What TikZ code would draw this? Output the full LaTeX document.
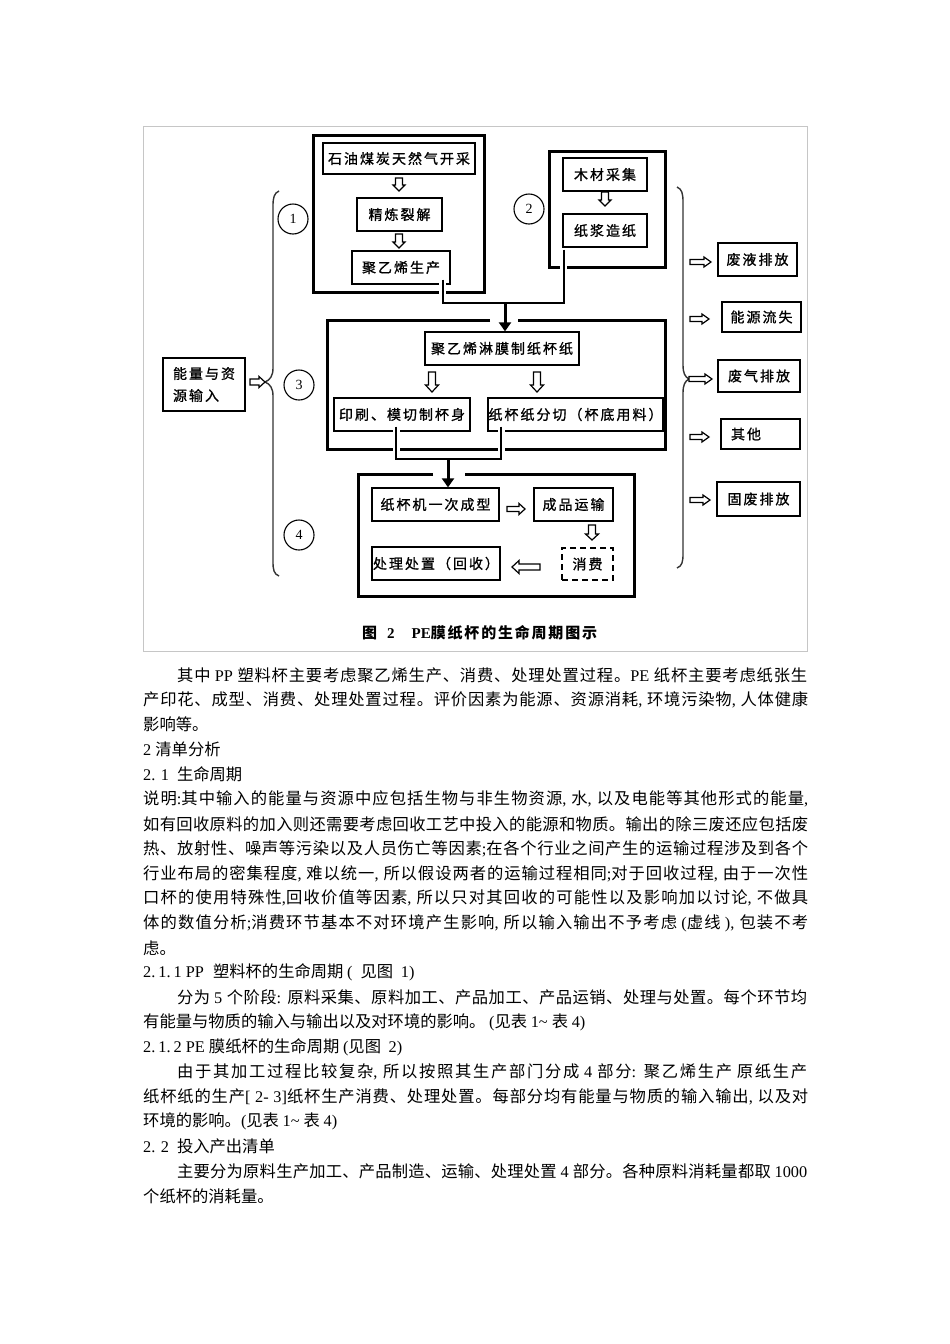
\documentclass[tikz,border=0pt]{standalone}
\usepackage{fontspec}
\setmainfont{Noto Sans CJK SC}
\newfontfamily\cjkreg{Noto Sans CJK SC}
\newfontfamily\cjkdiag{Noto Sans CJK SC}[FakeBold=1]
\newfontfamily\latinfont{Liberation Serif}
\newcommand\cjkcur{\cjkreg}
\usetikzlibrary{arrows.meta}
\XeTeXinterchartokenstate=1
\newXeTeXintercharclass\cjkclass
\newcount\cjkcnt
\newcommand\setcjkrange[2]{\cjkcnt=#1\relax
  \loop\XeTeXcharclass\cjkcnt=\cjkclass\relax
  \ifnum\cjkcnt<#2\relax\advance\cjkcnt by 1\relax\repeat}
\setcjkrange{"3000}{"303F}
\setcjkrange{"4E00}{"9FFF}
\setcjkrange{"FF00}{"FFEF}
\newcommand\cjkgap{\hskip 0pt plus 3pt minus 1pt\relax}
\XeTeXinterchartoks 0 \cjkclass = {\cjkcur}
\XeTeXinterchartoks 4095 \cjkclass = {\cjkcur}
\XeTeXinterchartoks \cjkclass 0 = {\latinfont}
\XeTeXinterchartoks 4095 0 = {\latinfont}
\XeTeXinterchartoks \cjkclass \cjkclass = {\cjkgap}
\newcommand\dfont{\fontsize{14}{22}\selectfont\renewcommand\cjkgap{\hskip2pt\relax}\renewcommand\cjkcur{\cjkdiag}}
\newcommand\capfont{\fontsize{15}{18}\selectfont\bfseries\renewcommand\cjkgap{\hskip1.8pt\relax}}
\newcommand\numfont{\fontsize{14}{14}\selectfont}
\newcommand\bodyfont{\fontsize{16.3}{19}\selectfont}
\newcommand\jl[2]{\hbox to #1{#2}}
% hollow block arrow: x, y, rotation, length, shaft half width, head half width, head length
\newcommand\harrow[7]{\draw[hollow, shift={(#1,#2)}, rotate=#3]
  (-#4/2,-#5) -- (#4/2-#7,-#5) -- (#4/2-#7,-#6) -- (#4/2,0) -- (#4/2-#7,#6)
  -- (#4/2-#7,#5) -- (-#4/2,#5) -- cycle;}
\begin{document}
\begin{tikzpicture}[x=1pt,y=-1pt,
  box/.style={draw, line width=1.3pt, inner sep=0pt, font=\dfont},
  outbox/.style={draw, line width=1.4pt, inner sep=0pt, font=\dfont},
  circ/.style={circle, draw, line width=1.1pt, minimum size=30pt, inner sep=0pt, font=\numfont},
  grp/.style={line width=3pt},
  conn/.style={line width=1.8pt, preaction={draw=white, line width=7pt}},
  bigarr/.style={line width=3pt, -{Triangle[length=9pt,width=12pt]}},
  brace/.style={line width=1.4pt, black!80},
  hollow/.style={draw, line width=1.2pt, fill=white},
  plain/.style={anchor=west, inner sep=0pt, font=\bodyfont}]
\useasboundingbox (0,0) rectangle (950,1344);
\fill[white] (0,0) rectangle (950,1344);
% outer frame
\draw[gray!45, line width=1pt] (143,126) rectangle (807,651);
% group frames
\draw[grp] (313,135) rectangle (484,292);
\draw[grp] (549,151) rectangle (665,267);
\draw[grp] (490,320) -- (327,320) -- (327,449) -- (665,449) -- (665,320) -- (518,320);
\draw[grp] (433,474) -- (358,474) -- (358,596) -- (634,596) -- (634,474) -- (465,474);
% boxes of group 1
\node[box, minimum width=152pt, minimum height=31pt] (b11) at (399,158.5) {石油煤炭天然气开采};
\node[box, minimum width=85pt, minimum height=33pt] (b12) at (399.5,214.5) {精炼裂解};
\node[box, minimum width=98pt, minimum height=33pt] (b13) at (401,267.5) {聚乙烯生产};
% group 2
\node[box, minimum width=84pt, minimum height=33pt] (b21) at (605,174.5) {木材采集};
\node[box, minimum width=84pt, minimum height=33pt] (b22) at (605,230.5) {纸浆造纸};
% group 3
\node[box, minimum width=154pt, minimum height=33pt] (b31) at (502,348.5) {聚乙烯淋膜制纸杯纸};
\node[box, minimum width=136pt, minimum height=33pt] (b32) at (402,414.5) {印刷、模切制杯身};
\node[box, minimum width=175pt, minimum height=33pt] (b33) at (575.5,414.5) {纸杯纸分切（杯底用料）};
% group 4
\node[box, minimum width=127pt, minimum height=33pt] (b41) at (435.5,504.5) {纸杯机一次成型};
\node[box, minimum width=79pt, minimum height=33pt] (b42) at (573.5,504.5) {成品运输};
\node[box, dashed, dash pattern=on 6pt off 4pt, line width=1.6pt, minimum width=51pt, minimum height=32pt] (b43) at (587.5,564) {消费};
\node[box, minimum width=128pt, minimum height=33pt] (b44) at (436,563.5) {处理处置（回收）};
% input box
\node[outbox, text width=62pt, align=left, inner xsep=10pt, minimum height=53pt] (inp) at (204,384.5) {能量与资\\源输入};
% output boxes
\node[outbox, minimum width=79pt, minimum height=33pt] (o1) at (757.5,259.5) {废液排放};
\node[outbox, minimum width=79pt, minimum height=30pt] (o2) at (761.5,317) {能源流失};
\node[outbox, minimum width=82pt, minimum height=32pt] (o3) at (759,376) {废气排放};
\node[outbox, text width=59pt, align=left, inner xsep=10pt, minimum height=30pt] (o4) at (760.5,434) {其他};
\node[outbox, minimum width=83pt, minimum height=34pt] (o5) at (758.5,499) {固废排放};
% circles
\node[circ] (c1) at (293,219) {1};
\node[circ] (c2) at (529,209) {2};
\node[circ] (c3) at (299,385) {3};
\node[circ] (c4) at (299,535) {4};
% braces
\draw[brace] (279,191) .. controls (274,193) and (273,198) .. (273,206) -- (273,368)
  .. controls (273,376) and (270,380) .. (265,382) .. controls (270,384) and (273,388) .. (273,396)
  -- (273,562) .. controls (273,570) and (274,574) .. (279,576);
\draw[brace] (677,187) .. controls (682,189) and (683,194) .. (683,202) -- (683,365)
  .. controls (683,373) and (685,377) .. (689,379) .. controls (685,381) and (683,385) .. (683,393)
  -- (683,554) .. controls (683,562) and (682,566) .. (677,568);
% hollow arrows
\harrow{399}{184.5}{-90}{13}{3.5}{6}{6}
\harrow{399}{241}{-90}{14}{3.5}{6}{6}
\harrow{605}{199}{-90}{14}{3.5}{6}{6}
\harrow{432}{382}{-90}{20}{3.5}{6.5}{7}
\harrow{537}{382}{-90}{20}{3.5}{6.5}{7}
\harrow{516}{509}{0}{18}{2.5}{5.5}{6}
\harrow{592}{532.5}{-90}{15}{3.5}{6.5}{6}
\harrow{526}{567}{180}{28}{3}{6.5}{7}
\harrow{257.5}{382}{0}{15}{3}{5.5}{6}
\harrow{700.5}{262}{0}{21}{2.5}{5}{7}
\harrow{699.5}{319}{0}{19}{2.5}{5}{7}
\harrow{700.5}{379}{0}{23}{2.5}{5}{7}
\harrow{699.5}{437}{0}{19}{2.5}{5}{7}
\harrow{700}{500}{0}{20}{2.5}{5}{7}
% connectors
\coordinate (j1) at (505,303);
\coordinate (j2) at (448,459);
\draw[conn] ([xshift=-8pt,yshift=5pt]b13.south east) |- (j1);
\draw[conn] ([xshift=1.5pt,yshift=-2pt]b22.south west) |- (j1);
\draw[conn] ([xshift=63pt,yshift=5pt]b32.south west) |- (j2);
\draw[conn] ([xshift=14pt,yshift=5pt]b33.south west) |- (j2);
\draw[bigarr] ([yshift=1pt]j1) -- (j1 |- b31.north);
\draw[bigarr] ([yshift=1pt]j2) -- (j2 |- b41.north);
% caption
\node[anchor=west, inner sep=0pt, font=\capfont] (cap) at (362,633) {图\hspace{10pt}2\hspace{17pt}PE膜纸杯的生命周期图示};
% body text
\node[plain] (t0) at (177,675) {\jl{630pt}{其中 PP 塑料杯主要考虑聚乙烯生产、消费、处理处置过程。PE 纸杯主要考虑纸张生}};
\node[plain] (t1) at (143,699.8) {\jl{665pt}{产印花、成型、消费、处理处置过程。评价因素为能源、资源消耗, 环境污染物, 人体健康}};
\node[plain] (t2) at (143,724.6) {影响等。};
\node[plain] (t3) at (143,749.4) {2 清单分析};
\node[plain] (t4) at (143,774.2) {2. 1\hspace{8pt}生命周期};
\node[plain] (t5) at (143,799) {\jl{665pt}{说明:其中输入的能量与资源中应包括生物与非生物资源, 水, 以及电能等其他形式的能量,}};
\node[plain] (t6) at (143,823.8) {\jl{665pt}{如有回收原料的加入则还需要考虑回收工艺中投入的能源和物质。输出的除三废还应包括废}};
\node[plain] (t7) at (143,848.6) {\jl{665pt}{热、放射性、噪声等污染以及人员伤亡等因素;在各个行业之间产生的运输过程涉及到各个}};
\node[plain] (t8) at (143,873.4) {\jl{665pt}{行业布局的密集程度, 难以统一, 所以假设两者的运输过程相同;对于回收过程, 由于一次性}};
\node[plain] (t9) at (143,898.2) {\jl{665pt}{口杯的使用特殊性,回收价值等因素, 所以只对其回收的可能性以及影响加以讨论, 不做具}};
\node[plain] (t10) at (143,923) {\jl{665pt}{体的数值分析;消费环节基本不对环境产生影响, 所以输入输出不予考虑 (虚线 ), 包装不考}};
\node[plain] (t11) at (143,947.8) {虑。};
\node[plain] (t12) at (143,972.6) {2.\hspace{3pt}1.\hspace{3pt}1 PP\hspace{5pt} 塑料杯的生命周期 (\hspace{4pt} 见图\hspace{4pt} 1)};
\node[plain] (t13) at (177,997.4) {\jl{630pt}{分为 5 个阶段: 原料采集、原料加工、产品加工、产品运销、处理与处置。每个环节均}};
\node[plain] (t14) at (143,1022.2) {有能量与物质的输入与输出以及对环境的影响。 (见表 1\textasciitilde{} 表 4)};
\node[plain] (t15) at (143,1047) {2.\hspace{3pt}1.\hspace{3pt}2 PE 膜纸杯的生命周期 (见图\hspace{4pt} 2)};
\node[plain] (t16) at (177,1071.8) {\jl{630pt}{由于其加工过程比较复杂, 所以按照其生产部门分成 4 部分: 聚乙烯生产 原纸生产}};
\node[plain] (t17) at (143,1096.6) {\jl{665pt}{纸杯纸的生产[ 2- 3]纸杯生产消费、处理处置。每部分均有能量与物质的输入输出, 以及对}};
\node[plain] (t18) at (143,1121.4) {环境的影响。(见表 1\textasciitilde{} 表 4)};
\node[plain] (t19) at (143,1146.2) {2. 2\hspace{8pt}投入产出清单};
\node[plain] (t20) at (177,1171) {\jl{630pt}{主要分为原料生产加工、产品制造、运输、处理处置 4 部分。各种原料消耗量都取 1000}};
\node[plain] (t21) at (143,1195.8) {个纸杯的消耗量。};
\end{tikzpicture}
\end{document}
